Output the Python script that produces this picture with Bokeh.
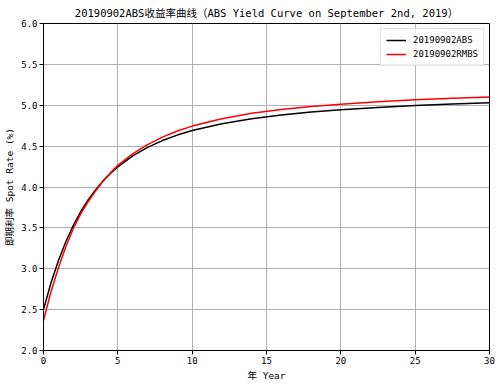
from bokeh.plotting import figure
from bokeh.models import Legend, LegendItem, FixedTicker, NumeralTickFormatter, Range1d
from bokeh.embed import file_html
from bokeh.resources import INLINE

# ---- data ----
years = [0, 0.5, 1, 1.5, 2, 2.5, 3, 3.5, 4, 4.5, 5, 6, 7, 8, 9, 10, 12, 14, 16, 18, 20, 22.5, 25, 27.5, 30]
abs_rate = [2.500, 2.825, 3.099, 3.331, 3.528, 3.697, 3.841, 3.965, 4.073, 4.166, 4.247, 4.381, 4.485,
            4.568, 4.635, 4.690, 4.774, 4.835, 4.880, 4.916, 4.945, 4.973, 4.996, 5.015, 5.030]
rmbs_rate = [2.370, 2.715, 3.010, 3.270, 3.490, 3.670, 3.820, 3.950, 4.070, 4.175, 4.265, 4.405, 4.518,
             4.610, 4.685, 4.745, 4.835, 4.901, 4.948, 4.984, 5.013, 5.043, 5.066, 5.085, 5.101]
series_names = ["20190902ABS", "20190902RMBS"]
x_ticks = [0, 5, 10, 15, 20, 25, 30]
y_ticks = [2.0, 2.5, 3.0, 3.5, 4.0, 4.5, 5.0, 5.5, 6.0]
title_text = "20190902ABS收益率曲线（ABS Yield Curve on September 2nd, 2019）"
x_label = "年 Year"
y_label = "即期利率 Spot Rate (%)"

FONT = "DejaVu Sans Mono, Noto Sans CJK SC"

p = figure(width=501, height=385, output_backend="svg", toolbar_location=None,
           x_range=Range1d(0, 30), y_range=Range1d(2, 6),
           min_border_left=43, min_border_right=12, min_border_top=23, min_border_bottom=35)

p.title.text = title_text
p.title.text_font = FONT
p.title.text_font_size = "10.5px"
p.title.text_font_style = "normal"
p.title.text_color = "black"
p.title.align = "center"
p.title.offset = 0
p.title.standoff = 9

r1 = p.line(years, abs_rate, line_color="black", line_width=1.5)
r2 = p.line(years, rmbs_rate, line_color="red", line_width=1.5)

for ax in (p.xaxis[0], p.yaxis[0]):
    ax.axis_line_color = "black"
    ax.major_tick_line_color = "black"
    ax.major_tick_out = 4
    ax.major_tick_in = 0
    ax.minor_tick_line_color = None
    ax.major_label_text_font = FONT
    ax.major_label_text_font_size = "9px"
    ax.major_label_text_color = "black"
    ax.axis_label_text_font = FONT
    ax.axis_label_text_font_size = "9.5px"
    ax.axis_label_text_font_style = "normal"
    ax.axis_label_text_color = "black"
    ax.major_label_standoff = 2
    ax.axis_label_standoff = 3

p.xaxis.ticker = FixedTicker(ticks=x_ticks)
p.yaxis.ticker = FixedTicker(ticks=y_ticks)
p.yaxis.formatter = NumeralTickFormatter(format="0.0")
p.xaxis.axis_label = x_label
p.yaxis.axis_label = y_label

p.xgrid.ticker = FixedTicker(ticks=x_ticks)
p.ygrid.ticker = FixedTicker(ticks=y_ticks)
p.grid.grid_line_color = "#b0b0b0"
p.grid.grid_line_width = 1

p.outline_line_color = "black"
p.outline_line_alpha = 1
p.outline_line_width = 1

legend = Legend(items=[LegendItem(label=series_names[0], renderers=[r1]),
                       LegendItem(label=series_names[1], renderers=[r2])],
                location="top_right")
legend.label_text_font = FONT
legend.label_text_font_size = "9px"
legend.label_text_color = "black"
legend.glyph_width = 20
legend.glyph_height = 12
legend.label_height = 12
legend.label_standoff = 7
legend.spacing = 2
legend.padding = 5
legend.margin = 5
legend.border_line_color = "#cccccc"
legend.border_line_width = 1
legend.background_fill_alpha = 0.8
p.add_layout(legend)

open("out.html", "w").write(file_html(p, INLINE))
